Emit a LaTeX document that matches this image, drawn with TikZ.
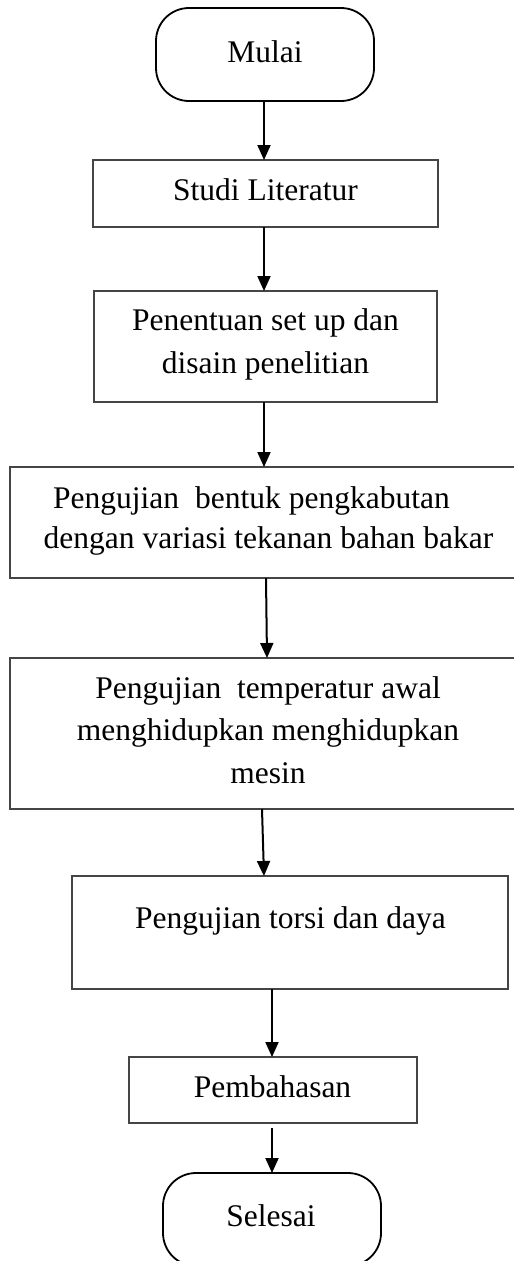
\documentclass[tikz,border=0pt]{standalone}
\usepackage{fontspec}
\setmainfont{Liberation Serif}
\usetikzlibrary{arrows.meta}
\definecolor{boxgray}{HTML}{454545}
\begin{document}
\begin{tikzpicture}[x=1pt,y=-1pt,
  procbox/.style={draw=boxgray, line width=2.4pt, inner sep=0pt, outer sep=0pt, anchor=north west},
  termbox/.style={draw=black, line width=1.8pt, rounded corners=33pt, inner sep=0pt, outer sep=0pt, anchor=north west, minimum width=218pt, minimum height=93pt},
  lbl/.style={anchor=base, inner sep=0pt, font=\fontsize{31.5}{41}\selectfont},
  arr/.style={line width=2pt, -{Triangle[length=15pt,width=13pt]}}]
\useasboundingbox (0,0) rectangle (514,1261);
\clip (0,0) rectangle (514,1261);
% nodes
\node[termbox] (mulai) at (156,8) {};
\node[lbl] (tmulai) at (265,62) {Mulai};
\node[procbox, minimum width=345pt, minimum height=67pt] (studi) at (93,160) {};
\node[lbl] (tstudi) at (265.5,200) {Studi Literatur};
\node[procbox, minimum width=343pt, minimum height=111pt] (tentu) at (94,291) {};
\node[lbl] (ttentua) at (265.5,330) {Penentuan set up dan};
\node[lbl] (ttentub) at (265.5,373) {disain penelitian};
\node[procbox, minimum width=516pt, minimum height=111pt] (bentuk) at (10,467) {};
\node[lbl] (tbentuka) at (251.5,508) {Pengujian\hspace{16pt}bentuk pengkabutan};
\node[lbl] (tbentukb) at (268.5,548) {dengan variasi tekanan bahan bakar};
\node[procbox, minimum width=516pt, minimum height=151pt] (temp) at (10,658) {};
\node[lbl] (ttempa) at (268,698) {Pengujian\ \ temperatur awal};
\node[lbl] (ttempb) at (268,740) {menghidupkan menghidupkan};
\node[lbl] (ttempc) at (268,783) {mesin};
\node[procbox, minimum width=436pt, minimum height=113pt] (torsi) at (72,876) {};
\node[lbl] (ttorsi) at (290.5,928) {Pengujian torsi dan daya};
\node[procbox, minimum width=288pt, minimum height=66pt] (bahas) at (129,1057) {};
\node[lbl] (tbahas) at (272.5,1097) {Pembahasan};
\node[termbox] (selesai) at (163,1173) {};
\node[lbl] (tselesai) at (271,1226) {Selesai};
% connectors
\draw[arr] ([xshift=-1pt]mulai.south) -- ([xshift=-1.5pt]studi.north);
\draw[arr] ([xshift=-1.5pt]studi.south) -- ([xshift=-1.5pt]tentu.north);
\draw[arr] ([xshift=-1.5pt]tentu.south) -- ([xshift=-4pt]bentuk.north);
\draw[arr] ([xshift=-2pt]bentuk.south) -- ([xshift=-1pt]temp.north);
\draw[arr] ([xshift=-6pt]temp.south) -- ([xshift=-26pt]torsi.north);
\draw[arr] ([xshift=-18pt]torsi.south) -- ([xshift=-1pt]bahas.north);
\draw[arr] ([xshift=-1pt,yshift=-5pt]bahas.south) -- ([xshift=0pt]selesai.north);
\end{tikzpicture}
\end{document}
